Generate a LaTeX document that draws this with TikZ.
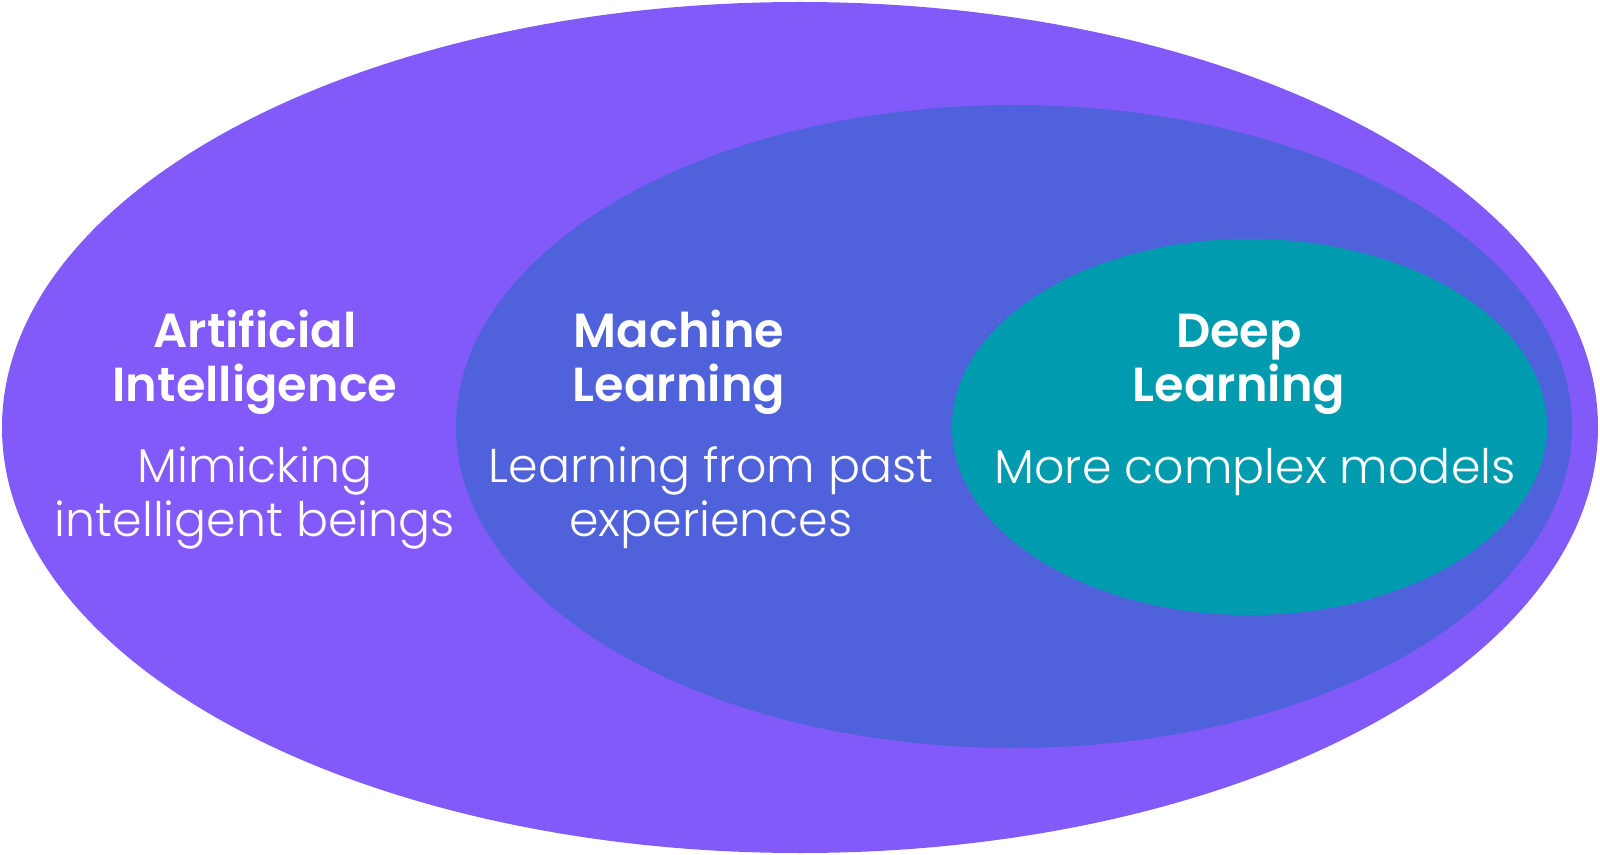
\documentclass[tikz,border=0pt]{standalone}
\usepackage{fontspec}
\setmainfont{Poppins}[UprightFont=* Light, BoldFont=* SemiBold]
\definecolor{aipurple}{HTML}{825AFA}
\definecolor{mlblue}{HTML}{4F62DB}
\definecolor{dlteal}{HTML}{009BAF}

\tikzset{
    title/.style={text=white, font=\fontsize{13.6}{15.6}\selectfont\bfseries, align=center, inner sep=0pt},
    desc/.style={text=white, font=\fontsize{13.5}{15.4}\selectfont, align=center, inner sep=0pt}
}

\begin{document}
\begin{tikzpicture}[x=0.01cm, y=-0.01cm]
    \useasboundingbox (0,0) rectangle (1600,855);

    % las tres elipses anidadas
    \fill[aipurple] (800,427.5) ellipse (798 and 425.5);
    \fill[mlblue] (1014,426.5) ellipse (558 and 321.5);
    \fill[dlteal] (1249.5,427) ellipse (297.5 and 188);

    % Inteligencia artificial (base = linea de abajo)
    \node[title, anchor=base] (ai) at (255,402) {Artificial\\Intelligence};
    \node[desc, anchor=base] (aidesc) at (255,537) {Mimicking\\intelligent beings};

    % Machine learning
    \node[title, anchor=base] (ml) at (679,402) {Machine\\Learning};
    \node[desc, anchor=base] (mldesc) at (711,537) {Learning from past\\experiences};

    % Deep learning
    \node[title, anchor=base] (dl) at (1239,402) {Deep\\Learning};
    \node[desc, anchor=base] (dldesc) at (1255,483) {More complex models};
\end{tikzpicture}
\end{document}
